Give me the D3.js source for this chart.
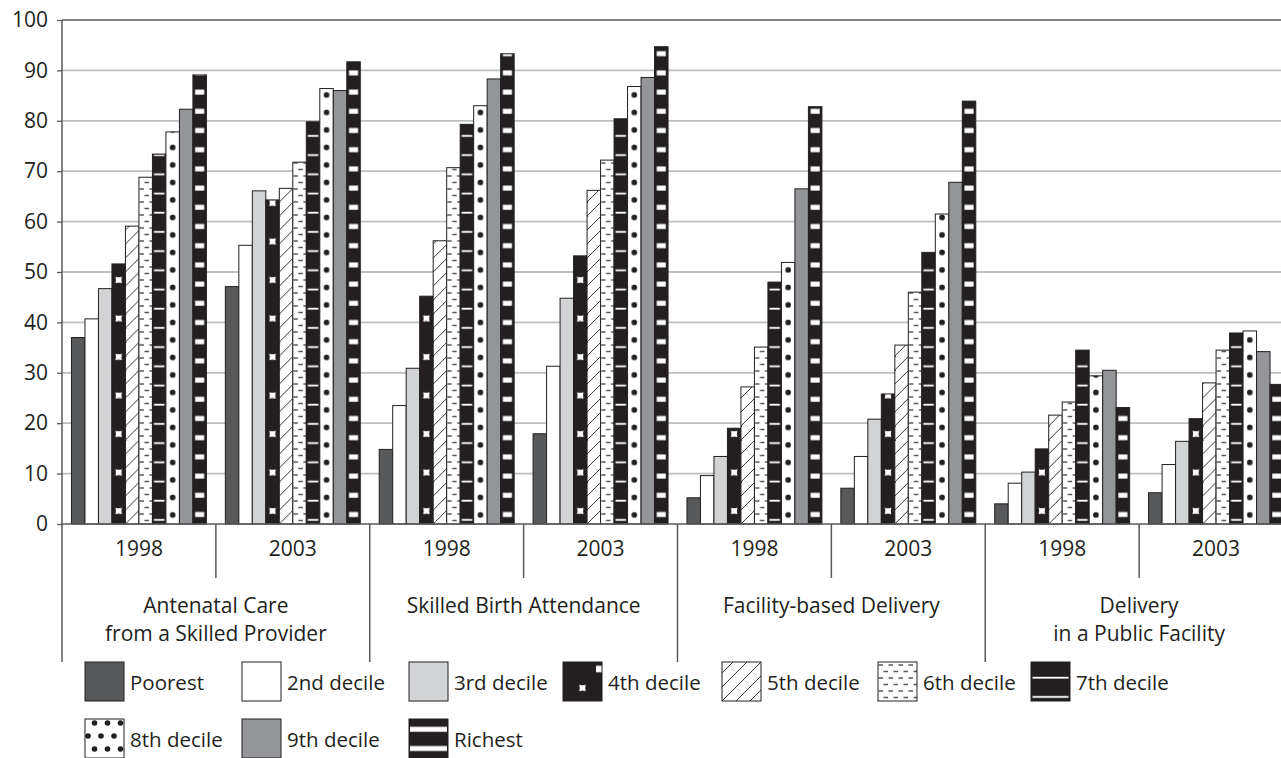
<!DOCTYPE html>
<html>
<head>
<meta charset="utf-8">
<script src="https://cdn.jsdelivr.net/npm/d3@7"></script>
<style>
  html, body { margin: 0; padding: 0; background: #fff; }
  svg { display: block; }
  text { font-family: "Open Sans", "Noto Sans", sans-serif; fill: #231f20; }
</style>
</head>
<body>
<svg id="chart" width="1281" height="758"></svg>
<script>
// ---------------- data ----------------
const categoryLines = [
  ["Antenatal Care", "from a Skilled Provider"],
  ["Skilled Birth Attendance"],
  ["Facility-based Delivery"],
  ["Delivery", "in a Public Facility"]
];
const years = ["1998", "2003"];
const seriesNames = ["Poorest", "2nd decile", "3rd decile", "4th decile", "5th decile",
                     "6th decile", "7th decile", "8th decile", "9th decile", "Richest"];
const yTicks = [0, 10, 20, 30, 40, 50, 60, 70, 80, 90, 100];

const antenatal1998 = [37.0, 40.7, 46.7, 51.6, 59.1, 68.8, 73.4, 77.8, 82.3, 89.1];
const antenatal2003 = [47.1, 55.3, 66.1, 64.3, 66.6, 71.8, 79.8, 86.4, 86.0, 91.7];
const sba1998       = [14.8, 23.5, 30.9, 45.2, 56.2, 70.7, 79.3, 83.0, 88.3, 93.3];
const sba2003       = [17.9, 31.3, 44.8, 53.2, 66.2, 72.2, 80.4, 86.8, 88.6, 94.7];
const facility1998  = [5.2, 9.6, 13.4, 19.0, 27.2, 35.1, 48.0, 51.9, 66.5, 82.8];
const facility2003  = [7.1, 13.4, 20.8, 25.8, 35.5, 46.0, 53.9, 61.5, 67.8, 83.9];
const public1998    = [4.0, 8.1, 10.3, 14.9, 21.6, 24.2, 34.5, 29.4, 30.5, 23.1];
const public2003    = [6.2, 11.8, 16.4, 20.9, 28.0, 34.5, 37.9, 38.3, 34.2, 27.7];

const clusterValues = [antenatal1998, antenatal2003, sba1998, sba2003,
                       facility1998, facility2003, public1998, public2003];

// ---------------- styles ----------------
const INK = "#231f20";
const FONT = 21;
const seriesStyle = ["solidDark", "white", "lightGray", "squares", "hatch",
                     "dashes", "whiteLines", "dots", "midGray", "whiteBars"];
const legendCols = [85, 242, 409, 563, 722, 878, 1031];
const legendRows = [662, 719];

// ---------------- layout ----------------
const svg = d3.select("#chart");
const defs = svg.append("defs");
const plotLeft = 62, plotTop = 20, baseY = 524;
const plotRight = 1293; // chart extends slightly beyond the window

const clusterKeys = d3.range(clusterValues.length);
const x0 = d3.scaleBand().domain(clusterKeys).range([plotLeft, plotRight])
  .paddingInner(0.123).paddingOuter(0.0615);
const x1 = d3.scaleBand().domain(d3.range(seriesNames.length)).range([0, x0.bandwidth()]);
const y = d3.scaleLinear().domain([0, 100]).range([baseY, plotTop]);
const step = x0.step();
const boundary = i => plotLeft + i * step;

// gridlines
svg.append("g")
  .selectAll("line").data(yTicks.filter(t => t > 0 && t < 100)).join("line")
  .attr("x1", plotLeft).attr("x2", 1281)
  .attr("y1", d => y(d)).attr("y2", d => y(d))
  .attr("stroke", "#bcbec0").attr("stroke-width", 1.8);
// top frame line
svg.append("line").attr("x1", plotLeft).attr("x2", 1281).attr("y1", y(100)).attr("y2", y(100))
  .attr("stroke", "#58595b").attr("stroke-width", 1.5);

// ---------------- patterns ----------------
let pid = 0;
function makeFill(kind, bx, bw, by) {
  switch (kind) {
    case "solidDark": return "#58595b";
    case "white": return "#ffffff";
    case "lightGray": return "#d1d3d4";
    case "midGray": return "#939598";
  }
  const id = "p" + (pid++);
  const p = defs.append("pattern").attr("id", id).attr("patternUnits", "userSpaceOnUse");
  if (kind === "squares") {
    const h = 38.5;
    p.attr("x", bx).attr("y", by).attr("width", bw).attr("height", h);
    p.append("rect").attr("width", bw).attr("height", h).attr("fill", INK);
    const s = 6.5, cx = bw / 2, cy = h - 13;
    p.append("path")
      .attr("d", `M${cx - s/2},${cy - s/2} Q${cx},${cy - s/2 + 1} ${cx + s/2},${cy - s/2} Q${cx + s/2 - 1},${cy} ${cx + s/2},${cy + s/2} Q${cx},${cy + s/2 - 1} ${cx - s/2},${cy + s/2} Q${cx - s/2 + 1},${cy} ${cx - s/2},${cy - s/2} Z`)
      .attr("fill", "#fff");
    if (bw > 30) {
      p.append("rect").attr("x", bw - 6).attr("y", cy - 19 - s/2).attr("width", s).attr("height", s).attr("fill", "#fff");
    }
  } else if (kind === "hatch") {
    const t = 14;
    p.attr("x", bx).attr("y", by).attr("width", t).attr("height", t);
    p.append("rect").attr("width", t).attr("height", t).attr("fill", "#fff");
    p.append("path").attr("d", `M-2,${t + 2} L${t + 2},-2 M-2,2 L2,-2 M${t - 2},${t + 2} L${t + 2},${t - 2}`)
      .attr("stroke", INK).attr("stroke-width", 0.9);
  } else if (kind === "dashes") {
    const tw = 10, th = 13;
    p.attr("x", bx).attr("y", by).attr("width", tw).attr("height", th);
    p.append("rect").attr("width", tw).attr("height", th).attr("fill", "#fff");
    p.append("path").attr("d", `M0.5,3 H5 M5.5,9.5 H10`)
      .attr("stroke", "#58595b").attr("stroke-width", 1.4);
  } else if (kind === "whiteLines") {
    const h = 19.2;
    p.attr("x", bx).attr("y", by).attr("width", bw).attr("height", h);
    p.append("rect").attr("width", bw).attr("height", h).attr("fill", INK);
    p.append("rect").attr("x", 1.5).attr("y", h - 5).attr("width", bw - 3).attr("height", 1.8).attr("fill", "#fff");
  } else if (kind === "dots") {
    const h = 17.5;
    if (bw > 30) {
      const tw = 26;
      p.attr("x", bx).attr("y", by).attr("width", tw).attr("height", 26);
      p.append("rect").attr("width", tw).attr("height", 26).attr("fill", "#fff");
      [[3, 4], [16, 4], [9.5, 17], [22.5, 17], [-3.5, 17], [29.5, 17]].forEach(([cx, cy]) =>
        p.append("circle").attr("cx", cx).attr("cy", cy).attr("r", 2.8).attr("fill", INK));
    } else {
      p.attr("x", bx).attr("y", by).attr("width", bw).attr("height", h);
      p.append("rect").attr("width", bw).attr("height", h).attr("fill", "#fff");
      p.append("circle").attr("cx", bw / 2).attr("cy", h - 9).attr("r", 2.8).attr("fill", INK);
    }
  } else if (kind === "whiteBars") {
    const h = 19.2;
    p.attr("x", bx).attr("y", by).attr("width", bw).attr("height", h);
    p.append("rect").attr("width", bw).attr("height", h).attr("fill", INK);
    const m = bw > 30 ? 1 : 2.2;
    p.append("rect").attr("x", m).attr("y", h - 12).attr("width", bw - 2 * m).attr("height", 5).attr("fill", "#fff");
  }
  return `url(#${id})`;
}

// ---------------- bars ----------------
const barData = [];
clusterValues.forEach((vals, c) => vals.forEach((v, s) => barData.push({ c, s, v })));

svg.append("g").selectAll("rect").data(barData).join("rect")
  .attr("x", d => x0(d.c) + x1(d.s))
  .attr("y", d => y(d.v))
  .attr("width", x1.bandwidth())
  .attr("height", d => y(0) - y(d.v))
  .attr("fill", d => makeFill(seriesStyle[d.s], x0(d.c) + x1(d.s), x1.bandwidth(), baseY))
  .attr("stroke", INK).attr("stroke-width", 1);

// ---------------- axes ----------------
const yAxis = d3.axisLeft(y).tickValues(yTicks).tickSize(5).tickPadding(9);
const gy = svg.append("g").attr("transform", `translate(${plotLeft},0)`).call(yAxis);
gy.select(".domain").remove();
gy.selectAll(".tick line").attr("stroke", "#58595b").attr("stroke-width", 1.3);
gy.selectAll(".tick text").attr("font-size", FONT).attr("font-family", "Open Sans, sans-serif").attr("fill", INK);

// y axis line extends into the category area
svg.append("line").attr("x1", plotLeft).attr("x2", plotLeft).attr("y1", plotTop).attr("y2", 662)
  .attr("stroke", "#58595b").attr("stroke-width", 1.5);
// x axis line
svg.append("line").attr("x1", plotLeft).attr("x2", 1281).attr("y1", baseY).attr("y2", baseY)
  .attr("stroke", "#58595b").attr("stroke-width", 1.5);

// dividers
const nClusters = clusterValues.length;
for (let i = 1; i <= nClusters; i++) {
  const isCat = i % years.length === 0;
  svg.append("line").attr("x1", boundary(i)).attr("x2", boundary(i))
    .attr("y1", baseY).attr("y2", isCat ? 662 : 578)
    .attr("stroke", "#58595b").attr("stroke-width", 1.5);
}

// year labels
svg.append("g").selectAll("text").data(clusterKeys).join("text")
  .attr("x", c => boundary(c) + step / 2)
  .attr("y", 549).attr("dy", "0.35em")
  .attr("text-anchor", "middle").attr("font-size", FONT)
  .text(c => years[c % years.length]);

// category labels
categoryLines.forEach((lines, k) => {
  const cx = boundary(k * years.length) + step * years.length / 2;
  lines.forEach((ln, j) => {
    svg.append("text").attr("x", cx).attr("y", 606 + j * 28).attr("dy", "0.35em")
      .attr("text-anchor", "middle").attr("font-size", FONT).text(ln);
  });
});

// ---------------- legend ----------------
const sw = 39;
seriesNames.forEach((name, s) => {
  const row = Math.floor(s / legendCols.length);
  const col = s % legendCols.length;
  const lx = legendCols[col], ly = legendRows[row];
  svg.append("rect").attr("x", lx).attr("y", ly).attr("width", sw).attr("height", sw)
    .attr("fill", makeFill(seriesStyle[s], lx, sw, ly + sw))
    .attr("stroke", INK).attr("stroke-width", 1);
  svg.append("text").attr("x", lx + sw + 6).attr("y", ly + sw / 2 + 1).attr("dy", "0.35em")
    .attr("font-size", 20.5).text(name);
});
</script>
</body>
</html>
